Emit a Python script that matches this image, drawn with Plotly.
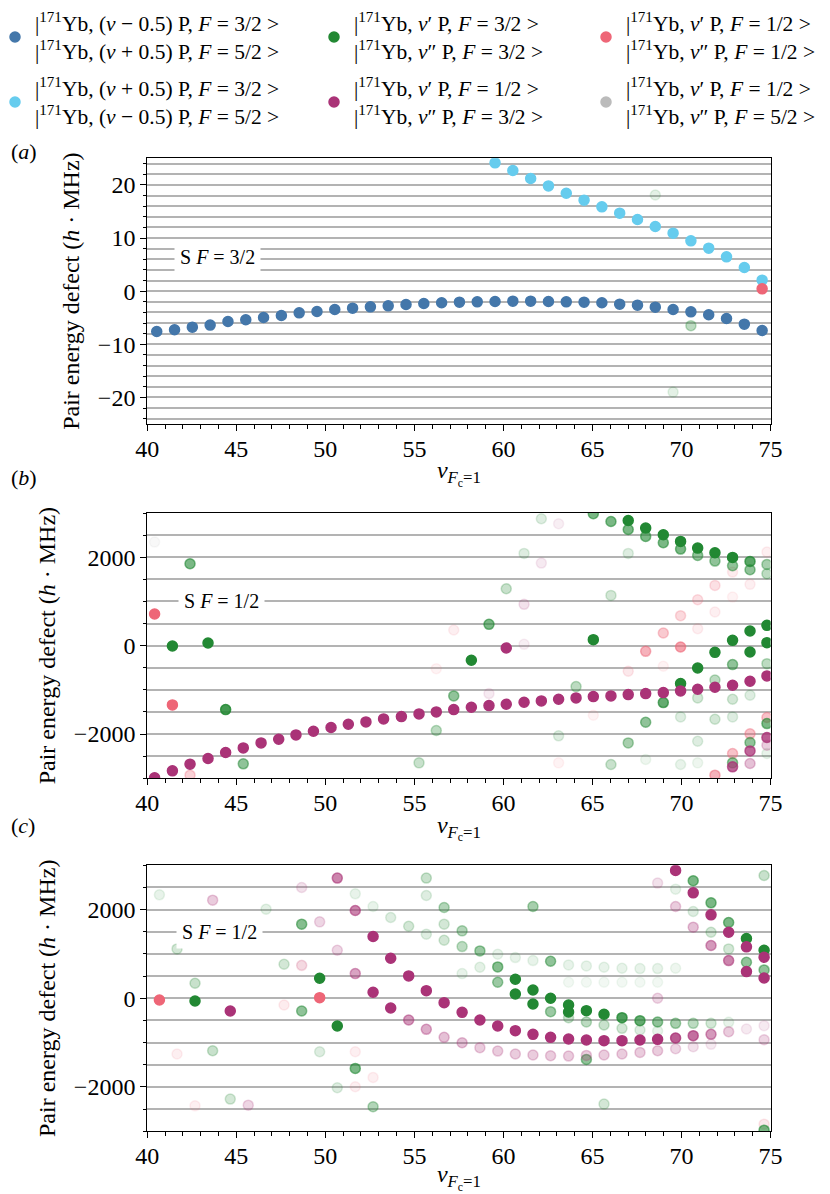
import plotly.graph_objects as go

FONT = "Liberation Serif"
BLUE, CYAN, GREEN, RED, PURPLE, GREY = "#4477AA", "#66CCEE", "#228833", "#EE6677", "#AA3377", "#BBBBBB"
GRID = "#b3b3b3"

# ---------------- legend labels ----------------
KET = "|<sup>171</sup>Yb, "
LEGEND_LABELS = {
    "blue": KET + "(<i>ν</i> − 0.5) P, <i>F</i> = 3/2 ><br>" + KET + "(<i>ν</i> + 0.5) P, <i>F</i> = 5/2 >",
    "cyan": KET + "(<i>ν</i> + 0.5) P, <i>F</i> = 3/2 ><br>" + KET + "(<i>ν</i> − 0.5) P, <i>F</i> = 5/2 >",
    "green": KET + "<i>ν</i>′ P, <i>F</i> = 3/2 ><br>" + KET + "<i>ν</i>″ P, <i>F</i> = 3/2 >",
    "purple": KET + "<i>ν</i>′ P, <i>F</i> = 1/2 ><br>" + KET + "<i>ν</i>″ P, <i>F</i> = 3/2 >",
    "red": KET + "<i>ν</i>′ P, <i>F</i> = 1/2 ><br>" + KET + "<i>ν</i>″ P, <i>F</i> = 1/2 >",
    "grey": KET + "<i>ν</i>′ P, <i>F</i> = 1/2 ><br>" + KET + "<i>ν</i>″ P, <i>F</i> = 5/2 >",
}

# ---------------- panel (a) ----------------
NU_A = [40.53, 41.53, 42.53, 43.53, 44.53, 45.53, 46.53, 47.53, 48.53, 49.53,
        50.53, 51.53, 52.53, 53.53, 54.53, 55.53, 56.53, 57.53, 58.53, 59.53,
        60.53, 61.53, 62.53, 63.53, 64.53, 65.53, 66.53, 67.53, 68.53, 69.53,
        70.53, 71.53, 72.53, 73.53, 74.53]
A_BLUE = [-7.59, -7.27, -6.77, -6.39, -5.71, -5.39, -4.95, -4.58, -4.08, -3.82,
          -3.45, -3.20, -2.95, -2.76, -2.51, -2.32, -2.19, -2.07, -2.01, -1.94,
          -1.88, -1.88, -1.94, -2.01, -2.07, -2.19, -2.45, -2.63, -3.01, -3.45,
          -3.89, -4.45, -5.14, -6.21, -7.40]
NU_A_CYAN = [59.53, 60.53, 61.53, 62.53, 63.53, 64.53, 65.53, 66.53, 67.53, 68.53,
             69.53, 70.53, 71.53, 72.53, 73.53, 74.53]
A_CYAN = [24.14, 22.70, 21.19, 19.81, 18.43, 17.12, 15.86, 14.67, 13.48, 12.16,
          10.91, 9.47, 8.09, 6.46, 4.45, 2.07]
# (nu, defect, alpha)
A_RED = [(74.53, 0.44, 1.0)]
A_GREEN = [(68.53, 18.1, 0.12), (70.53, -6.5, 0.3), (69.53, -19.0, 0.12)]

# ---------------- panel (b) ----------------
NU_B = [40.41, 41.41, 42.40, 43.41, 44.40, 45.39, 46.39, 47.38, 48.35, 49.33,
        50.32, 51.29, 52.28, 53.27, 54.27, 55.26, 56.23, 57.21, 58.20, 59.19,
        60.16, 61.16, 62.13, 63.10, 64.08, 65.05, 66.04, 67.01, 67.99, 68.98,
        69.95, 70.91, 71.88, 72.87, 73.85, 74.80]
B_PURPLE_MAIN = [-2989, -2831, -2681, -2553, -2417, -2312, -2199, -2116, -2018, -1935,
                 -1852, -1777, -1724, -1657, -1604, -1544, -1498, -1446, -1393, -1355,
                 -1325, -1280, -1250, -1212, -1182, -1152, -1137, -1107, -1084, -1062,
                 -1024, -986, -941, -896, -806, -685]
B_PURPLE = [(60.16, -53, 1.0), (72.87, -2741, 0.75), (73.85, -2380, 0.75), (73.85, -2666, 0.3),
            (74.80, -2078, 0.8), (74.80, -2251, 0.25), (61.16, 934, 0.15), (62.13, 1867, 0.1),
            (63.10, 2756, 0.08), (59.19, -1084, 0.1), (61.16, 30, 0.08)]
B_GREEN = [(41.41, -8, 1.0), (42.40, 1852, 0.6), (43.41, 60, 1.0), (44.40, -1446, 0.85),
           (45.39, -2673, 0.5), (55.26, -2651, 0.25), (56.23, -1920, 0.3), (57.21, -1137, 0.5),
           (58.20, -331, 1.0), (59.19, 482, 0.6), (60.16, 1288, 0.25), (61.16, 2086, 0.15),
           (62.13, 2869, 0.15), (64.08, -926, 0.3), (63.10, -2040, 0.15), (65.05, 136, 1.0),
           (65.05, 2982, 0.6), (66.04, 2809, 0.6), (66.04, 1137, 0.2), (66.04, -2688, 0.25),
           (67.01, 2831, 1.0), (67.01, 2628, 0.6), (67.01, 2086, 0.15), (67.01, -2199, 0.4),
           (67.99, 2658, 1.0), (67.99, 2470, 0.6), (67.99, -1732, 0.5), (67.99, -2575, 0.08),
           (68.98, 2508, 1.0), (68.98, 2327, 0.6), (68.98, -1288, 0.7),
           (69.95, 2357, 1.0), (69.95, 2184, 0.6), (69.95, -858, 1.0), (69.95, -1611, 0.15),
           (69.95, -2688, 0.1), (70.91, 2206, 1.0), (70.91, 2041, 0.5), (70.91, -505, 1.0),
           (70.91, -1182, 0.2), (70.91, -2161, 0.15), (70.91, -2651, 0.08),
           (71.88, 2101, 1.0), (71.88, 1913, 0.5), (71.88, -151, 1.0), (71.88, -776, 0.3),
           (71.88, -1664, 0.2), (72.87, 1995, 1.0), (72.87, 1807, 0.5), (72.87, 120, 1.0),
           (72.87, -429, 0.5), (72.87, -1212, 0.2), (72.87, -1611, 0.15), (72.87, -2651, 0.5),
           (73.85, 1905, 0.75), (73.85, 1717, 0.5), (73.85, 331, 1.0), (73.85, -143, 1.0),
           (73.85, -1122, 0.15), (73.85, -2191, 0.5), (74.80, 459, 1.0), (74.80, 68, 1.0),
           (74.80, -407, 0.3), (74.80, 1837, 0.4), (74.80, 1626, 0.3), (74.80, -1762, 0.6),
           (74.80, -2440, 0.1)]
B_RED = [(40.41, 715, 1.0), (41.41, -1340, 1.0), (42.40, -2929, 0.3), (57.21, 354, 0.1),
         (56.23, -520, 0.08), (67.99, -128, 0.5), (68.98, 286, 0.35), (69.95, -30, 0.6),
         (69.95, 678, 0.25), (70.91, 1039, 0.2), (71.88, 1363, 0.2), (71.88, -2929, 0.5),
         (72.87, -2440, 0.4), (73.85, -1995, 0.4), (74.80, -1626, 0.4), (74.80, 2116, 0.1),
         (72.87, 1664, 0.12), (70.91, 384, 0.1), (68.98, -467, 0.08), (67.01, -580, 0.15),
         (73.85, 1386, 0.1), (72.87, 1099, 0.08), (71.88, 760, 0.1), (63.10, -2651, 0.08),
         (65.05, -1574, 0.08)]
B_GREY = [(40.41, 2342, 0.1)]

# ---------------- panel (c) ----------------
C_PURPLE = [(44.66, -286, 1.0), (52.68, 136, 1.0), (53.67, -218, 1.0), (53.67, 904, 1.0),
            (52.68, 1393, 1.0), (54.68, 505, 1.0), (55.67, 173, 1.0), (56.67, -98, 1.0),
            (57.68, -316, 1.0), (58.68, -489, 1.0), (59.68, -625, 1.0), (60.67, -730, 1.0),
            (61.66, -813, 1.0), (62.65, -881, 1.0), (63.66, -919, 1.0), (64.66, -941, 1.0),
            (65.65, -956, 1.0), (66.66, -956, 1.0), (67.67, -941, 1.0), (68.66, -926, 1.0),
            (69.67, -896, 0.8), (70.66, -843, 0.7), (71.66, -813, 0.5), (72.65, -753, 0.25),
            (73.65, -693, 0.1), (74.64, -617, 0.1), (74.64, -934, 0.2),
            (50.67, 2711, 0.6), (51.68, 1980, 0.6), (51.68, 557, 0.45), (54.68, -489, 0.5),
            (55.67, -700, 0.4), (56.67, -881, 0.3), (57.68, -1002, 0.3), (58.68, -1114, 0.25),
            (59.68, -1190, 0.25), (60.67, -1257, 0.25), (61.66, -1280, 0.25), (62.65, -1295, 0.25),
            (63.66, -1303, 0.25), (64.66, -1288, 0.25), (65.65, -1280, 0.25), (66.66, -1257, 0.25),
            (67.67, -1220, 0.25), (68.66, -1182, 0.25), (69.67, -1137, 0.2), (70.66, -1092, 0.15),
            (71.66, -1039, 0.1), (43.67, 2214, 0.25), (49.68, 1724, 0.2), (50.67, 1084, 0.2),
            (45.67, -2410, 0.2), (48.67, 2500, 0.15), (48.67, 745, 0.1), (68.66, 0, 0.2),
            (69.67, 2884, 1.0), (70.66, 2379, 1.0), (71.66, 1883, 1.0), (72.65, 1491, 1.0),
            (73.65, 1160, 1.0), (74.64, 926, 1.0), (73.65, 602, 1.0), (74.64, 459, 1.0),
            (72.65, 851, 0.6), (71.66, 1190, 0.5), (70.66, 1604, 0.3), (69.67, 2071, 0.25),
            (68.66, 2598, 0.15)]
C_GREEN = [(42.68, -60, 1.0), (48.67, -286, 0.5), (49.68, 452, 1.0), (50.67, -625, 1.0),
           (48.67, 1672, 0.55), (51.68, -1581, 0.6), (52.68, -2447, 0.35), (43.67, -1182, 0.25),
           (44.66, -2274, 0.2), (41.67, 1114, 0.2), (42.68, 339, 0.25), (40.68, 2334, 0.1),
           (47.68, 768, 0.2), (46.67, 2010, 0.12), (49.68, -1205, 0.15), (50.67, -2018, 0.15),
           (51.68, 2357, 0.1), (52.68, 2071, 0.1), (53.67, 1822, 0.15), (54.68, 1626, 0.2),
           (55.67, 2711, 0.25), (55.67, 2319, 0.15), (55.67, 1446, 0.15), (56.67, 2048, 0.35),
           (56.67, 1672, 0.2), (56.67, 1310, 0.2), (57.68, 1521, 0.35), (57.68, 1167, 0.3),
           (57.68, 557, 0.1), (58.68, 1069, 0.45), (59.68, 708, 0.55), (59.68, 361, 0.45),
           (60.67, 429, 1.0), (60.67, 98, 1.0), (61.66, 188, 1.0), (61.66, -128, 1.0),
           (61.66, 2071, 0.4), (62.65, 0, 1.0), (62.65, 836, 0.5), (62.65, -301, 0.45),
           (63.66, -151, 1.0), (63.66, -309, 1.0), (63.66, -437, 0.25), (64.66, -279, 1.0),
           (64.66, -535, 0.3), (64.66, -1378, 0.5), (65.65, -361, 1.0), (65.65, -602, 0.25),
           (65.65, -2387, 0.2), (66.66, -437, 0.8), (66.66, -678, 0.2), (67.67, -505, 0.7),
           (67.67, -715, 0.15), (68.66, -535, 0.5), (68.66, -738, 0.1), (69.67, -565, 0.4),
           (70.66, -565, 0.3), (71.66, -565, 0.2), (72.65, -542, 0.1), (70.66, 2651, 0.6),
           (71.66, 2154, 0.6), (72.65, 1709, 0.6), (73.65, 1348, 1.0), (74.64, 1084, 1.0),
           (73.65, 813, 0.5), (74.64, 640, 0.5), (71.66, 1491, 0.2), (70.66, 1958, 0.15),
           (69.67, 2462, 0.1), (72.65, 1114, 0.2), (74.64, 2771, 0.25), (74.64, -2974, 0.6),
           (58.68, 700, 0.12), (59.68, 994, 0.1), (60.67, 919, 0.1), (61.66, 851, 0.1),
           (63.66, 753, 0.1), (64.66, 730, 0.1), (65.65, 700, 0.1), (66.66, 678, 0.1),
           (67.67, 670, 0.1), (68.66, 670, 0.1), (69.67, 678, 0.08), (63.66, 361, 0.06),
           (64.66, 361, 0.06), (65.65, 361, 0.06), (66.66, 361, 0.06), (67.67, 361, 0.06),
           (68.66, 361, 0.06)]
C_RED = [(40.68, -38, 1.0), (49.68, 15, 1.0), (41.67, -1257, 0.1), (42.68, -2425, 0.1),
         (47.68, -151, 0.12), (48.67, 738, 0.12), (51.68, -1205, 0.1), (51.68, -1995, 0.1),
         (52.68, -1785, 0.1), (74.64, -2839, 0.15)]

# ---------------- annotations text ----------------
PANEL_LABELS = ["(<i>a</i>)", "(<i>b</i>)", "(<i>c</i>)"]
STATE_LABELS = [("S <i>F</i> = 3/2", 43.97, 6.5), ("S <i>F</i> = 1/2", 44.18, 1000), ("S <i>F</i> = 1/2", 44.04, 1500)]
X_TITLE = "<i>ν</i><sub><i>F</i><sub>c</sub>=1</sub>"
Y_TITLE = "Pair energy defect (<i>h</i> · MHz)"

# page is rendered with the default 8 px body margin
OFF = 8
W, H = 830 - OFF, 1194 - OFF


def rgba(hexc, a):
    h = hexc.lstrip("#")
    r, g, b = int(h[0:2], 16), int(h[2:4], 16), int(h[4:6], 16)
    return f"rgba({r},{g},{b},{a})"


def pts_trace(pts, color, xa, ya):
    pts = sorted(pts, key=lambda p: p[2])
    xs = [p[0] for p in pts]
    ys = [p[1] for p in pts]
    cols = [rgba(color, p[2]) for p in pts]
    return go.Scatter(x=xs, y=ys, mode="markers", xaxis=xa, yaxis=ya, showlegend=False,
                      hoverinfo="x+y",
                      marker=dict(size=10, color=cols, line=dict(width=1.5, color=cols)))


fig = go.Figure()

# panel (a)
fig.add_trace(pts_trace(A_GREEN, GREEN, "x", "y"))
fig.add_trace(pts_trace([(x, y, 1.0) for x, y in zip(NU_A, A_BLUE)], BLUE, "x", "y"))
fig.add_trace(pts_trace([(x, y, 1.0) for x, y in zip(NU_A_CYAN, A_CYAN)], CYAN, "x", "y"))
fig.add_trace(pts_trace(A_RED, RED, "x", "y"))

# panel (b)
fig.add_trace(pts_trace(B_GREY, GREY, "x2", "y2"))
fig.add_trace(pts_trace(B_RED, RED, "x2", "y2"))
fig.add_trace(pts_trace(B_GREEN, GREEN, "x2", "y2"))
fig.add_trace(pts_trace([(x, y, 1.0) for x, y in zip(NU_B, B_PURPLE_MAIN)] + B_PURPLE, PURPLE, "x2", "y2"))

# panel (c)
fig.add_trace(pts_trace(C_RED, RED, "x3", "y3"))
fig.add_trace(pts_trace(C_GREEN, GREEN, "x3", "y3"))
fig.add_trace(pts_trace(C_PURPLE, PURPLE, "x3", "y3"))

# legend entries (six single-item legends laid out in a 3 x 2 grid); marker positions in page px
legend_items = [("blue", BLUE, "legend", 15, 37), ("cyan", CYAN, "legend2", 15, 102),
                ("green", GREEN, "legend3", 334, 37), ("purple", PURPLE, "legend4", 334, 102),
                ("red", RED, "legend5", 606, 37), ("grey", GREY, "legend6", 606, 102)]
legend_layouts = {}
for key, col, lg, mx, my in legend_items:
    fig.add_trace(go.Scatter(x=[None], y=[None], mode="markers", name=LEGEND_LABELS[key],
                             marker=dict(size=10, color=col, line=dict(width=1.5, color=col)),
                             legend=lg, showlegend=True))
    legend_layouts[lg] = dict(x=(mx - OFF - 20) / W, xanchor="left", y=1 - (my - OFF) / H, yanchor="middle",
                              bgcolor="rgba(0,0,0,0)", borderwidth=0,
                              font=dict(family=FONT, size=21.5, color="black"),
                              itemclick=False, itemdoubleclick=False)


def xaxis_cfg(anchor):
    return dict(domain=[(147.3 - OFF) / W, (770.5 - OFF) / W], anchor=anchor, range=[40, 75],
                dtick=5, tick0=40, ticks="outside", ticklen=6, tickwidth=1, tickcolor="black",
                minor=dict(dtick=1, ticks="outside", ticklen=3.5, tickwidth=1, tickcolor="black"),
                showline=True, linecolor="black", linewidth=1.2, mirror=True, showgrid=False,
                zeroline=False, tickfont=dict(family=FONT, size=24, color="black"),
                ticklabelstandoff=-3,
                title=dict(text=X_TITLE, font=dict(family=FONT, size=24, color="black"), standoff=0))


def yaxis_cfg(anchor, top, bottom, rng, dt, mdt):
    return dict(domain=[1 - (bottom - OFF) / H, 1 - (top - OFF) / H], anchor=anchor, range=rng,
                dtick=dt, tick0=0, ticks="outside", ticklen=6, tickwidth=1, tickcolor="black",
                minor=dict(dtick=mdt, ticks="outside", ticklen=3.5, tickwidth=1, tickcolor="black",
                           showgrid=True, gridcolor=GRID, gridwidth=1.5),
                showgrid=True, gridcolor=GRID, gridwidth=1.5,
                showline=True, linecolor="black", linewidth=1.2, mirror=True,
                zeroline=False, tickfont=dict(family=FONT, size=24, color="black"),
                title=dict(text=Y_TITLE, font=dict(family=FONT, size=24, color="black"), standoff=11))


annotations = []
for lab, yc in zip(PANEL_LABELS, [151, 478, 825]):
    annotations.append(dict(text=lab, xref="paper", yref="paper", x=(9 - OFF) / W, y=1 - (yc - OFF) / H,
                            xanchor="left", yanchor="middle", showarrow=False,
                            font=dict(family=FONT, size=22, color="black")))
for (txt, xv, yv), (xr, yr) in zip(STATE_LABELS, [("x", "y"), ("x2", "y2"), ("x3", "y3")]):
    annotations.append(dict(text=txt, xref=xr, yref=yr, x=xv, y=yv, showarrow=False,
                            bgcolor="white", borderpad=5,
                            font=dict(family=FONT, size=20, color="black")))

fig.update_layout(
    width=W, height=H,
    margin=dict(l=0, r=0, t=0, b=0, autoexpand=False),
    paper_bgcolor="white", plot_bgcolor="white",
    font=dict(family=FONT, color="black"),
    xaxis=xaxis_cfg("y"), yaxis=yaxis_cfg("x", 158.3, 424.0, [-25, 25], 10, 2),
    xaxis2=xaxis_cfg("y2"), yaxis2=yaxis_cfg("x2", 513.0, 778.3, [-3000, 3000], 2000, 500),
    xaxis3=xaxis_cfg("y3"), yaxis3=yaxis_cfg("x3", 865.3, 1131.3, [-3000, 3000], 2000, 500),
    annotations=annotations,
    shapes=[dict(type="line", xref="x domain", yref="y", x0=0, x1=1, y0=0, y1=0,
                 line=dict(color="#606060", width=1.6, dash="dot"), layer="below")],
    **legend_layouts,
)

fig.write_html("out.html")
